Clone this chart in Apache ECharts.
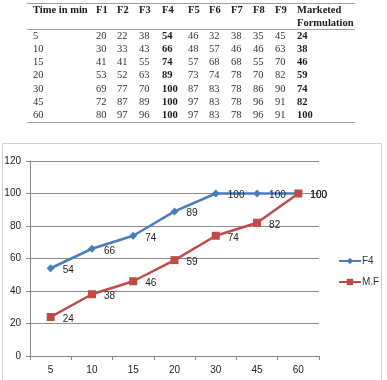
<!DOCTYPE html>
<html>
<head>
<meta charset="utf-8">
<script src="https://cdn.jsdelivr.net/npm/echarts@6/dist/echarts.min.js"></script>
<style>
  html, body { margin: 0; padding: 0; background: #fff; }
  #main { width: 387px; height: 380px; }
</style>
</head>
<body>
<div id="main"></div>
<script>
// table columns (time in min, then the formulations)
const times = ['5', '10', '15', '20', '30', '45', '60'];
const f1 = [20, 30, 41, 53, 69, 72, 80];
const f2 = [22, 33, 41, 52, 77, 87, 97];
const f3 = [38, 43, 55, 63, 70, 89, 96];
const f4 = [54, 66, 74, 89, 100, 100, 100];
const f5 = [46, 48, 57, 73, 87, 97, 97];
const f6 = [32, 57, 68, 74, 83, 83, 83];
const f7 = [38, 46, 68, 78, 78, 78, 78];
const f8 = [35, 46, 55, 70, 86, 96, 96];
const f9 = [45, 63, 70, 82, 90, 91, 91];
const marketed = [24, 38, 46, 59, 74, 82, 100];
const headers = ['Time in min', 'F1', 'F2', 'F3', 'F4', 'F5', 'F6', 'F7', 'F8', 'F9', 'Marketed\nFormulation'];
const seriesNames = ['F4', 'M.F'];

const chart = echarts.init(document.getElementById('main'));

// table layout
const colX = [33, 96, 117, 139, 162, 188, 209, 231, 253, 275, 297];
const boldCols = [4, 10];
const rowY0 = 36, rowH = 13.2;
const columns = [times, f1, f2, f3, f4, f5, f6, f7, f8, f9, marketed];
const serif = '"Liberation Serif", "DejaVu Serif", serif';

let graphics = [];
const hline = (y) => ({
    type: 'line', shape: { x1: 27, y1: y, x2: 355, y2: y },
    style: { stroke: '#a0a0a0', lineWidth: 1 }
});
graphics.push(hline(3.5), hline(29.5), hline(122.5));

headers.forEach((h, i) => {
    graphics.push({
        type: 'text', x: colX[i], y: 3.5,
        style: { text: h, font: 'bold 10.5px ' + serif, fill: '#1a1a1a', lineHeight: 13.5, verticalAlign: 'top' }
    });
});
columns.forEach((col, i) => {
    col.forEach((v, r) => {
        graphics.push({
            type: 'text', x: colX[i], y: rowY0 + r * rowH,
            style: {
                text: String(v),
                font: (boldCols.includes(i) ? 'bold ' : '') + '10.5px ' + serif,
                fill: boldCols.includes(i) ? '#1a1a1a' : '#333', verticalAlign: 'middle'
            }
        });
    });
});

// chart frame
graphics.push({
    type: 'rect', shape: { x: 2.5, y: 143.5, width: 379, height: 240 },
    style: { fill: 'none', stroke: '#d0d0d0', lineWidth: 1 }, z: -1
});

const sans = '"Liberation Sans", Arial, sans-serif';
const blue = '#4a7ebb';
const red = '#be4b48';

chart.setOption({
    animation: false,
    textStyle: { fontFamily: sans },
    graphic: graphics,
    grid: { left: 30, right: 68, top: 161, bottom: 24, containLabel: false },
    legend: {
        orient: 'vertical', left: 333, top: 251,
        itemWidth: 22, itemHeight: 8, itemGap: 11,
        textStyle: { fontSize: 10, color: '#333', fontFamily: sans, padding: [0, 0, 0, -4] },
        data: seriesNames
    },
    xAxis: {
        type: 'category', data: times, boundaryGap: true,
        axisLine: { lineStyle: { color: '#888' } },
        axisTick: { show: true, length: 4, lineStyle: { color: '#888' } },
        axisLabel: { color: '#222', fontSize: 10, margin: 9 }
    },
    yAxis: {
        type: 'value', min: 0, max: 120, interval: 20,
        axisLine: { show: true, lineStyle: { color: '#888' } },
        axisTick: { show: true, length: 4, lineStyle: { color: '#888' } },
        axisLabel: { color: '#222', fontSize: 10, margin: 9 },
        splitLine: { lineStyle: { color: '#8c8c8c' } }
    },
    series: [
        {
            name: seriesNames[0], type: 'line', data: f4,
            symbol: 'diamond', symbolSize: 8,
            lineStyle: { color: blue, width: 2.5 },
            itemStyle: { color: blue },
            label: { show: true, position: 'right', distance: 8, offset: [0, 2], color: '#222', fontSize: 10 }
        },
        {
            name: seriesNames[1], type: 'line', data: marketed,
            symbol: 'rect', symbolSize: 8,
            lineStyle: { color: red, width: 2.5 },
            itemStyle: { color: red },
            label: { show: true, position: 'right', distance: 8, offset: [0, 2], color: '#222', fontSize: 10 }
        }
    ]
});
</script>
</body>
</html>
